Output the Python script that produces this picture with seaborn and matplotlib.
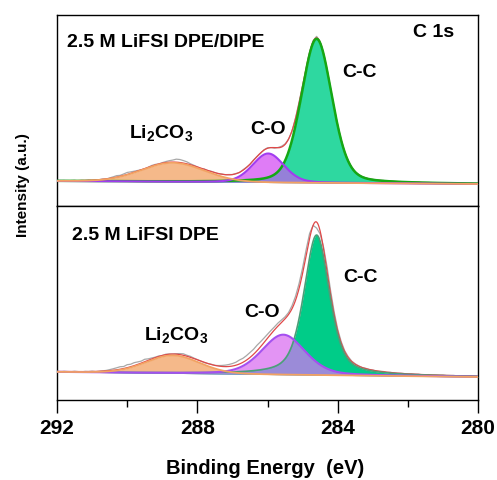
import numpy as np
import pandas as pd
import matplotlib
matplotlib.use("Agg")
import matplotlib.pyplot as plt
from matplotlib.ticker import MultipleLocator
import seaborn as sns

# ---------------- data ----------------
peaks = ["C-C", "C-O", "Li2CO3"]

# fitted components, top panel (2.5 M LiFSI DPE/DIPE)
top_center = [284.6, 285.98, 288.7]
top_height = [144.0, 29.0, 19.0]
top_fwhm = [1.03, 1.05, 2.1]
top_lmix = [0.25, 0.20, 0.05]
top_bg = [1.5, -1.5]          # background at 292 eV and 280 eV

# fitted components, bottom panel (2.5 M LiFSI DPE)
bot_center = [284.6, 285.55, 288.7]
bot_height = [140.0, 40.0, 18.0]
bot_fwhm = [0.85, 1.45, 1.8]
bot_lmix = [0.50, 0.30, 0.10]
bot_bg = [2.5, -2.5]

# raw spectrum minus fitted envelope, 292.0 -> 280.0 eV every 0.1 eV
top_raw_dev = [
    0.3, -0.2, 0.2, -0.3, 0.1, 0.3, -0.2, 0.2, -0.1, 0.3,
    -0.2, 0.2, 0.0, 0.3, -0.1, 0.5, 1.0, 1.5, 1.0, 1.5,
    2.0, 1.5, 1.0, 0.5, 0.0, -0.5, 0.0, 0.5, 0.5, 0.0,
    0.5, 1.0, 1.5, 2.0, 3.0, 3.0, 2.5, 2.0, 1.0, 0.5,
    0.0, -0.5, 0.3, -0.2, 0.3, 0.0, -0.3, 0.2, 0.0, 0.3,
    0.0, 0.3, -0.2, 0.5, 0.3, -0.3, 0.4, 0.0, -0.5, 0.3,
    0.5, 0.0, -0.5, 0.3, 0.8, 0.5, 0.0, -0.5, 0.5, 1.0,
    0.5, -0.5, 0.5, 1.0, 1.5, 0.5, -0.5, 0.5, 0.0, -0.3,
    0.3, 0.0, -0.2, 0.3, 0.0, -0.2, 0.2, 0.0, 0.3, -0.2,
    0.2, -0.2, 0.0, 0.3, -0.1, 0.2, 0.0, -0.2, 0.2, 0.0,
    -0.2, 0.2, 0.0, 0.3, -0.2, 0.0, 0.2, -0.1, 0.1, 0.0,
    0.2, -0.2, 0.0, 0.2, -0.1, 0.1, 0.0, -0.2, 0.2, 0.0, 0.1,
]
bot_raw_dev = [
    0.3, -0.3, 0.2, 0.0, -0.2, 0.3, 0.0, -0.3, 0.2, 0.0,
    0.3, -0.2, 0.0, 0.3, 0.5, 1.0, 1.5, 2.0, 2.5, 2.0,
    3.0, 2.5, 3.0, 2.5, 2.0, 2.5, 1.5, 1.0, 0.5, 0.5,
    0.0, 0.5, 0.3, 0.0, 0.5, 1.0, 1.5, 1.0, 1.0, 0.5,
    0.3, 0.0, -0.3, 0.0, 0.3, 0.0, 0.5, 1.0, 1.5, 2.0,
    2.5, 3.0, 4.0, 4.0, 4.5, 5.0, 5.0, 5.5, 5.0, 4.5,
    4.0, 3.5, 3.0, 3.0, 2.5, 2.0, 2.0, 3.0, 4.0, 5.0,
    5.5, 6.0, 5.0, 0.0, -6.0, -3.0, 2.0, 5.0, 4.0, 3.0,
    2.0, 1.5, 1.0, 1.0, 0.5, 0.5, 0.3, 0.0, 0.3, 0.0,
    0.2, -0.2, 0.0, 0.3, -0.1, 0.2, 0.0, -0.2, 0.2, 0.0,
    -0.2, 0.2, 0.0, 0.3, -0.2, 0.0, 0.2, -0.1, 0.1, 0.0,
    0.2, -0.2, 0.0, 0.2, -0.1, 0.1, 0.0, -0.2, 0.2, 0.0, 0.1,
]

xticks = [292, 288, 284, 280]
panel_titles = ["2.5 M LiFSI DPE/DIPE", "2.5 M LiFSI DPE"]
peak_labels = ["C-C", "C-O", r"Li$_2$CO$_3$"]

# ---------------- style ----------------
sns.set_theme(style="white")
plt.rcParams["font.family"] = ["Liberation Sans", "DejaVu Sans"]
plt.rcParams["font.weight"] = "bold"
plt.rcParams["text.color"] = "black"
plt.rcParams["axes.labelcolor"] = "black"
plt.rcParams["xtick.color"] = "black"
plt.rcParams["ytick.color"] = "black"
plt.rcParams["mathtext.fontset"] = "custom"
plt.rcParams["mathtext.rm"] = "Liberation Sans:bold"
plt.rcParams["mathtext.bf"] = "Liberation Sans:bold"
plt.rcParams["mathtext.it"] = "Liberation Sans:bold"
plt.rcParams["mathtext.default"] = "bf"

styles = {
    "top": dict(cc_fill="#2ED8A0", cc_edge="#14A814", cc_lw=1.8,
                co_fill="#DF7CF6", co_edge="#A23CF0", ov="#9580D8",
                li_fill="#F5B98A", li_edge="#F2A262"),
    "bot": dict(cc_fill="#00CC88", cc_edge="#4C9E78", cc_lw=1.2,
                co_fill="#E394F4", co_edge="#A54FF0", ov="#9B8BD8",
                li_fill="#F5B98A", li_edge="#F2A262"),
}


def gl(x, c, h, w, m):
    d = (x - c) / w
    return h * ((1 - m) * np.exp(-4 * np.log(2) * d ** 2) + m / (1 + 4 * d ** 2))


W, H = 497, 480
fig = plt.figure(figsize=(W / 100, H / 100), dpi=100)
L, R = 57, 478
ax_top = fig.add_axes([L / W, 1 - 206 / H, (R - L) / W, 191 / H])
ax_bot = fig.add_axes([L / W, 1 - 400 / H, (R - L) / W, 194 / H], sharex=ax_top)

xf = np.linspace(292, 280, 1201)
xg = np.round(np.linspace(292, 280, 121), 1)

panels = [
    (ax_top, top_center, top_height, top_fwhm, top_lmix, top_bg, top_raw_dev, styles["top"], (-23.5, 167.5)),
    (ax_bot, bot_center, bot_height, bot_fwhm, bot_lmix, bot_bg, bot_raw_dev, styles["bot"], (-25.5, 168.5)),
]

for ax, cen, hgt, fw, lm, bgv, dev, st, ylim in panels:
    bg_f = np.interp(xf, [280, 292], [bgv[1], bgv[0]])
    bg_g = np.interp(xg, [280, 292], [bgv[1], bgv[0]])
    comps = [gl(xf, cen[i], hgt[i], fw[i], lm[i]) for i in range(3)]
    comps_g = [gl(xg, cen[i], hgt[i], fw[i], lm[i]) for i in range(3)]
    cc, co, li = comps
    env = bg_f + cc + co + li
    raw = bg_g + sum(comps_g) + np.array(dev)

    ax.fill_between(xf, bg_f, bg_f + li, color=st["li_fill"], lw=0, zorder=1)
    ax.fill_between(xf, bg_f, bg_f + co, color=st["co_fill"], lw=0, zorder=2)
    ax.fill_between(xf, bg_f, bg_f + cc, color=st["cc_fill"], lw=0, zorder=3)
    ax.fill_between(xf, bg_f, bg_f + np.minimum(co, cc), color=st["ov"], lw=0, zorder=4)

    df = pd.DataFrame({"E": xf, "cc": bg_f + cc, "co": bg_f + co, "li": bg_f + li, "env": env})
    dr = pd.DataFrame({"E": xg, "raw": raw})
    sns.lineplot(data=dr, x="E", y="raw", ax=ax, color="#A8A8A8", lw=0.9, zorder=5, sort=False)
    sns.lineplot(data=df, x="E", y="env", ax=ax, color="#E04848", lw=0.9, zorder=6, sort=False)
    sns.lineplot(data=df, x="E", y="cc", ax=ax, color=st["cc_edge"], lw=st["cc_lw"], zorder=7, sort=False)
    sns.lineplot(data=df, x="E", y="co", ax=ax, color=st["co_edge"], lw=1.5, zorder=8, sort=False)
    sns.lineplot(data=df, x="E", y="li", ax=ax, color=st["li_edge"], lw=1.3, zorder=9, sort=False)

    ax.set_ylim(*ylim)
    ax.set_yticks([])
    ax.set_xlabel("")
    ax.set_ylabel("")
    for sp in ax.spines.values():
        sp.set_visible(True)
        sp.set_color("black")
        sp.set_linewidth(1.0)

ax_bot.set_xlim(292, 280)
ax_bot.set_xticks(xticks)
ax_bot.xaxis.set_minor_locator(MultipleLocator(2))
ax_bot.tick_params(axis="x", which="major", direction="out", length=9, width=1.0,
                   labelsize=15, pad=4.5, bottom=True, colors="black")
ax_bot.tick_params(axis="x", which="minor", direction="out", length=5, width=1.0, bottom=True)
for t in ax_bot.get_xticklabels():
    t.set_fontweight("bold")
ax_top.tick_params(axis="x", which="both", bottom=False, labelbottom=False)

fs = 14
tk = dict(fontsize=fs, fontweight="bold", va="baseline", color="black")
# top panel texts
ax_top.text(0.024, 0.834, panel_titles[0], transform=ax_top.transAxes, **tk)
ax_top.text(0.846, 0.883, "C 1s", transform=ax_top.transAxes, **tk)
ax_top.text(0.677, 0.675, peak_labels[0], transform=ax_top.transAxes, **tk)
ax_top.text(0.458, 0.377, peak_labels[1], transform=ax_top.transAxes, **tk)
ax_top.text(0.171, 0.356, peak_labels[2], transform=ax_top.transAxes, **tk)
# bottom panel texts
ax_bot.text(0.035, 0.825, panel_titles[1], transform=ax_bot.transAxes, **tk)
ax_bot.text(0.680, 0.610, peak_labels[0], transform=ax_bot.transAxes, **tk)
ax_bot.text(0.444, 0.429, peak_labels[1], transform=ax_bot.transAxes, **tk)
ax_bot.text(0.207, 0.309, peak_labels[2], transform=ax_bot.transAxes, **tk)

fig.text(265 / W, 1 - 468 / H, "Binding Energy  (eV)", ha="center", va="center",
         fontsize=14.5, fontweight="bold", color="black")
fig.text(23 / W, 1 - 185 / H, "Intensity (a.u.)", ha="center", va="center", rotation=90,
         fontsize=11, fontweight="bold", color="black")

fig.savefig("out.png", dpi=100, facecolor="white")
